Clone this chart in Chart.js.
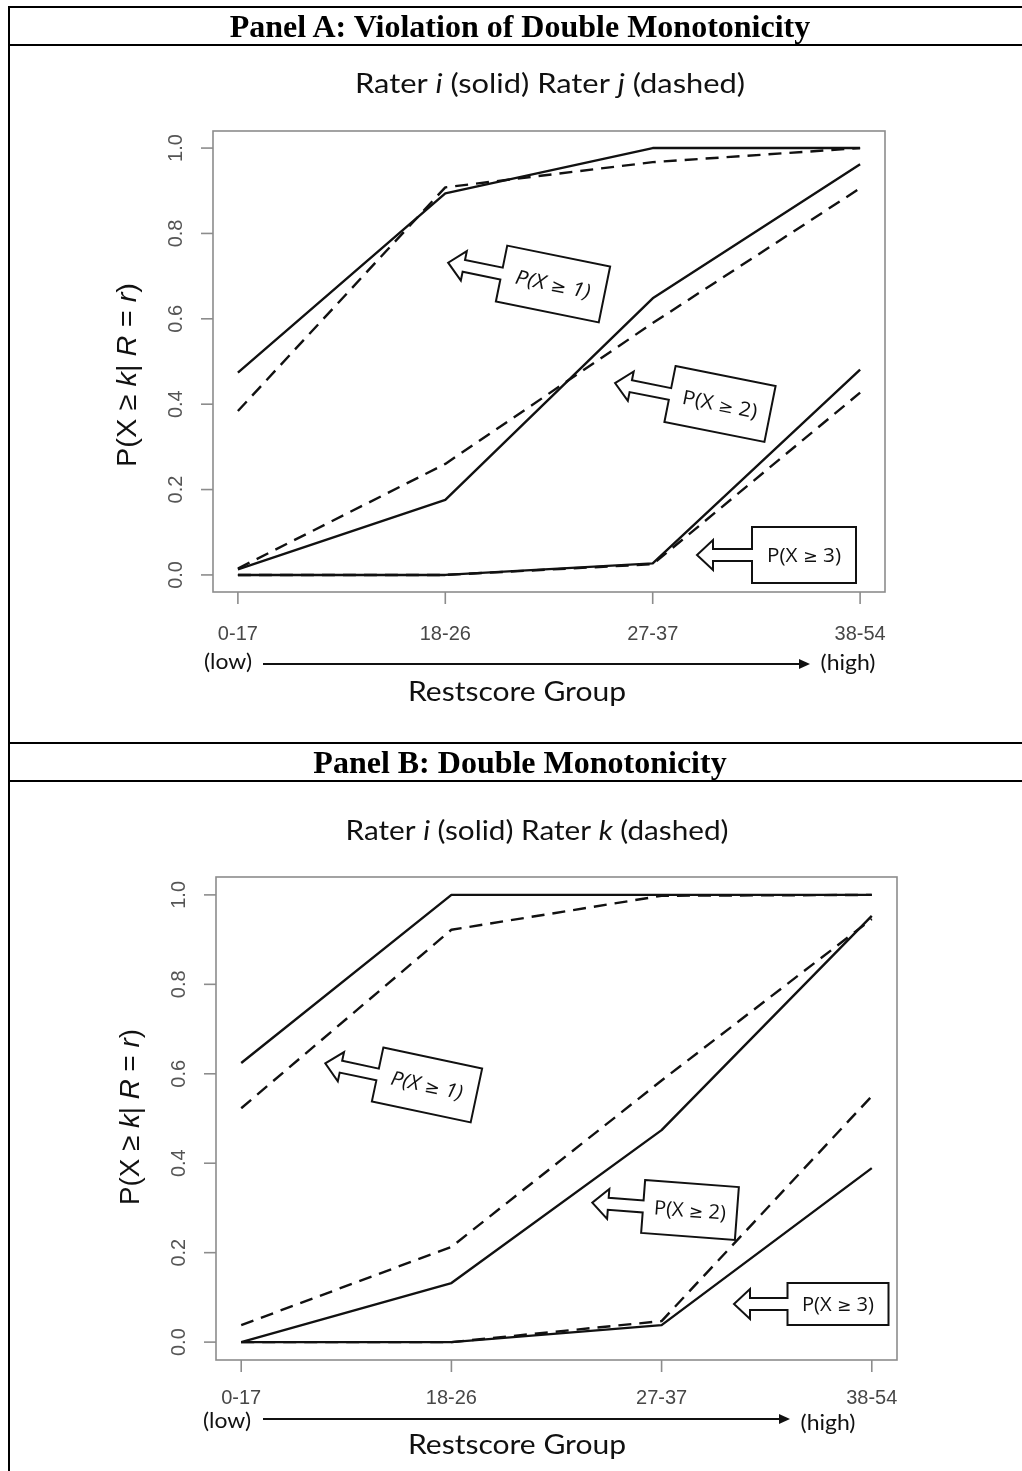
<!DOCTYPE html>
<html>
<head>
<meta charset="utf-8">
<script src="https://cdn.jsdelivr.net/npm/chart.js@4.4.1/dist/chart.umd.min.js"></script>
<style>
  html, body { margin: 0; padding: 0; background: #fff; width: 1022px; height: 1471px; overflow: hidden; position: relative; }
  canvas { position: absolute; left: 0; }
  .rule { position: absolute; background: #000; z-index: 2; }
  .head { position: absolute; left: 8px; width: 1024px; height: 36px; line-height: 36px; text-align: center;
          font: bold 32px "Liberation Serif", "Times New Roman", serif; color: #000; white-space: nowrap; z-index: 2; }
</style>
</head>
<body>
<canvas id="chartA" width="1022" height="742" style="top:0"></canvas>
<canvas id="chartB" width="1022" height="727" style="top:744px"></canvas>

<div class="rule" style="left:8px;top:6px;width:1014px;height:2px"></div>
<div class="rule" style="left:8px;top:6px;width:2px;height:1465px"></div>
<div class="rule" style="left:8px;top:44px;width:1014px;height:2px"></div>
<div class="rule" style="left:8px;top:742px;width:1014px;height:2px"></div>
<div class="rule" style="left:8px;top:780px;width:1014px;height:2px"></div>
<div class="head" style="top:8px">Panel A: Violation of Double Monotonicity</div>
<div class="head" style="top:744px">Panel B: Double Monotonicity</div>

<script>
// Restscore groups along the x axis
const groups = ['0-17', '18-26', '27-37', '38-54'];
// Probability ticks on the y axis
const yTickValues = [0, 0.2, 0.4, 0.6, 0.8, 1.0];
const yTickLabels = ['0.0', '0.2', '0.4', '0.6', '0.8', '1.0'];

// Panel A: rater i (solid) vs rater j (dashed)
const aSolidGe1  = [0.474, 0.894, 1.000, 1.000];
const aDashedGe1 = [0.384, 0.908, 0.967, 1.000];
const aSolidGe2  = [0.013, 0.176, 0.648, 0.962];
const aDashedGe2 = [0.015, 0.260, 0.590, 0.906];
const aSolidGe3  = [0.000, 0.000, 0.027, 0.481];
const aDashedGe3 = [0.000, 0.000, 0.025, 0.427];

// Panel B: rater i (solid) vs rater k (dashed)
const bSolidGe1  = [0.624, 1.000, 1.000, 1.000];
const bDashedGe1 = [0.523, 0.922, 0.998, 1.000];
const bSolidGe2  = [0.000, 0.132, 0.474, 0.953];
const bDashedGe2 = [0.038, 0.213, 0.585, 0.946];
const bSolidGe3  = [0.000, 0.000, 0.038, 0.389];
const bDashedGe3 = [0.000, 0.000, 0.047, 0.550];

// Category thresholds named in the callouts: P(X >= 1), P(X >= 2), P(X >= 3)
const calloutLevels = ['1', '2', '3'];

const INK = '#111';
const AXIS = '#8c8c8c';
const RFONT = '"Liberation Sans", Arial, sans-serif';
const SFONT = 'Lato, "Open Sans", sans-serif';
const CFONT = '"Open Sans", "DejaVu Sans", sans-serif';
const GEFONT = '"DejaVu Sans", sans-serif';

function series(vals, dashed) {
  return {
    data: vals.map((v, i) => ({ x: i + 1, y: v })),
    borderColor: INK,
    borderWidth: 2.4,
    borderDash: dashed ? [13, 8] : [],
    borderJoinStyle: 'round',
    pointRadius: 0,
    tension: 0,
    fill: false,
    clip: false
  };
}

// Draw a run of text pieces (some italic or in their own face), optionally squeezed to a width and rotated.
function drawRich(ctx, segs, x, y, o) {
  ctx.save();
  ctx.translate(x, y);
  if (o.rotate) ctx.rotate(o.rotate);
  const fonts = segs.map(s => (s.it ? 'italic ' : '') + (s.size || o.size) + 'px ' + (s.family || o.family));
  const widths = segs.map((s, i) => { ctx.font = fonts[i]; return ctx.measureText(s.t).width; });
  const total = widths.reduce((a, b) => a + b, 0);
  const sx = o.width ? o.width / total : 1;
  ctx.scale(sx, 1);
  let start = o.align === 'left' ? 0 : -total / 2;
  ctx.fillStyle = o.color || INK;
  ctx.textAlign = 'left';
  ctx.textBaseline = 'alphabetic';
  segs.forEach((s, i) => { ctx.font = fonts[i]; ctx.fillText(s.t, start, 0); start += widths[i]; });
  ctx.restore();
}

function makePanel(id, top, p) {
  const canvas = document.getElementById(id);
  const frame = {
    id: 'frame_' + id,
    beforeDatasetsDraw(chart) {
      const ctx = chart.ctx, a = chart.chartArea;
      const xs = chart.scales.x, ys = chart.scales.y;
      ctx.save();
      ctx.strokeStyle = AXIS;
      ctx.lineWidth = 1.6;
      ctx.strokeRect(a.left, a.top, a.right - a.left, a.bottom - a.top);
      // y ticks and rotated labels
      yTickValues.forEach((v, i) => {
        const py = ys.getPixelForValue(v);
        ctx.beginPath();
        ctx.moveTo(a.left, py);
        ctx.lineTo(a.left - 12, py);
        ctx.stroke();
        drawRich(ctx, [{ t: yTickLabels[i] }], a.left - 31, py, {
          size: 20, family: RFONT, color: '#555', rotate: -Math.PI / 2
        });
      });
      // x ticks and group labels
      groups.forEach((g, i) => {
        const px = xs.getPixelForValue(i + 1);
        ctx.beginPath();
        ctx.moveTo(px, a.bottom);
        ctx.lineTo(px, a.bottom + 12);
        ctx.stroke();
        drawRich(ctx, [{ t: g }], px, p.xLabelBase - top, { size: 20, family: RFONT, color: '#474747' });
      });
      ctx.restore();
    },
    afterDatasetsDraw(chart) {
      const ctx = chart.ctx;
      // block-arrow callouts naming each cumulative category
      p.callouts.forEach(c => {
        ctx.save();
        const w = c.w, h = c.h, s = 6, hh = 15, hl = 16;
        ctx.translate(c.cx, c.cy - top);
        ctx.rotate(c.angle * Math.PI / 180);
        ctx.beginPath();
        ctx.moveTo(-w / 2, -h / 2);
        ctx.lineTo(w / 2, -h / 2);
        ctx.lineTo(w / 2, h / 2);
        ctx.lineTo(-w / 2, h / 2);
        ctx.lineTo(-w / 2, s);
        ctx.lineTo(-c.tip + hl, s);
        ctx.lineTo(-c.tip + hl, hh);
        ctx.lineTo(-c.tip, 0);
        ctx.lineTo(-c.tip + hl, -hh);
        ctx.lineTo(-c.tip + hl, -s);
        ctx.lineTo(-w / 2, -s);
        ctx.closePath();
        ctx.fillStyle = '#fff';
        ctx.fill();
        ctx.lineWidth = 2;
        ctx.strokeStyle = INK;
        ctx.stroke();
        drawRich(ctx, [
          { t: 'P(X ', it: c.italic },
          { t: '\u2265', family: GEFONT, size: 17 },
          { t: ' ' + c.level + ')', it: c.italic }
        ], 0, 7, { size: 20, family: CFONT, width: c.tw });
        ctx.restore();
      });
    },
    afterDraw(chart) {
      const ctx = chart.ctx;
      // title
      drawRich(ctx, p.title, p.titleX, p.titleBase - top, { size: 27, family: SFONT, width: p.titleW });
      // y-axis title
      drawRich(ctx, [{ t: 'P(X \u2265 ' }, { t: 'k', it: true }, { t: '| ' }, { t: 'R', it: true }, { t: ' = ' }, { t: 'r', it: true }, { t: ')' }],
        p.yTitleBase, p.yTitleY - top, { size: 28, family: RFONT, width: p.yTitleW, rotate: -Math.PI / 2 });
      // low -> high arrow
      const ay = p.arrowY - top;
      ctx.save();
      ctx.strokeStyle = INK; ctx.fillStyle = INK; ctx.lineWidth = 2;
      ctx.beginPath(); ctx.moveTo(p.arrowX0, ay); ctx.lineTo(p.arrowX1 - 8, ay); ctx.stroke();
      ctx.beginPath(); ctx.moveTo(p.arrowX1, ay); ctx.lineTo(p.arrowX1 - 11, ay - 5); ctx.lineTo(p.arrowX1 - 11, ay + 5); ctx.closePath(); ctx.fill();
      ctx.restore();
      drawRich(ctx, [{ t: '(low)' }], p.lowX, p.lowBase - top, { size: 21, family: SFONT, width: 48 });
      drawRich(ctx, [{ t: '(high)' }], p.highX, p.highBase - top, { size: 21, family: SFONT, width: 55 });
      drawRich(ctx, [{ t: 'Restscore Group' }], p.xTitleX, p.xTitleBase - top, { size: 27, family: SFONT, width: 218 });
    }
  };

  return new Chart(canvas.getContext('2d'), {
    type: 'line',
    data: { datasets: p.sets },
    options: {
      responsive: false,
      animation: false,
      devicePixelRatio: 1,
      events: [],
      layout: { padding: p.pad },
      plugins: { legend: { display: false }, tooltip: { enabled: false }, title: { display: false } },
      scales: {
        x: { type: 'linear', min: 0.88, max: 4.12, display: false },
        y: { type: 'linear', min: -0.04, max: 1.04, display: false }
      }
    },
    plugins: [frame]
  });
}

makePanel('chartA', 0, {
  pad: { left: 213, right: 137, top: 131, bottom: 150 },
  sets: [series(aSolidGe1), series(aDashedGe1, true), series(aSolidGe2), series(aDashedGe2, true), series(aSolidGe3), series(aDashedGe3, true)],
  title: [{ t: 'Rater ' }, { t: 'i', it: true }, { t: ' (solid) Rater ' }, { t: 'j', it: true }, { t: ' (dashed)' }],
  titleX: 550, titleBase: 93, titleW: 390,
  yTitleBase: 136, yTitleY: 375, yTitleW: 184,
  xLabelBase: 640,
  arrowY: 664, arrowX0: 263, arrowX1: 810,
  lowX: 228, lowBase: 669, highX: 848, highBase: 670,
  xTitleX: 517, xTitleBase: 701,
  callouts: [
    { cx: 553, cy: 284, angle: 11.5, w: 105, h: 57, tip: 107, level: calloutLevels[0], italic: true, tw: 76 },
    { cx: 720, cy: 404, angle: 11.3, w: 102, h: 57, tip: 107, level: calloutLevels[1], italic: false, tw: 76 },
    { cx: 804, cy: 555, angle: 0, w: 104, h: 56, tip: 107, level: calloutLevels[2], italic: false, tw: 74 }
  ]
});

makePanel('chartB', 744, {
  pad: { left: 216, right: 125, top: 133, bottom: 111 },
  sets: [series(bSolidGe1), series(bDashedGe1, true), series(bSolidGe2), series(bDashedGe2, true), series(bSolidGe3), series(bDashedGe3, true)],
  title: [{ t: 'Rater ' }, { t: 'i', it: true }, { t: ' (solid) Rater ' }, { t: 'k', it: true }, { t: ' (dashed)' }],
  titleX: 537, titleBase: 840, titleW: 383,
  yTitleBase: 139, yTitleY: 1117, yTitleW: 176,
  xLabelBase: 1404,
  arrowY: 1419, arrowX0: 263, arrowX1: 790,
  lowX: 227, lowBase: 1428, highX: 828, highBase: 1430,
  xTitleX: 517, xTitleBase: 1454,
  callouts: [
    { cx: 427, cy: 1085, angle: 12, w: 101, h: 55, tip: 104, level: calloutLevels[0], italic: true, tw: 73 },
    { cx: 690, cy: 1210, angle: 4.3, w: 94, h: 53, tip: 98, level: calloutLevels[1], italic: false, tw: 72 },
    { cx: 838, cy: 1304, angle: 0, w: 101, h: 42, tip: 104, level: calloutLevels[2], italic: false, tw: 72 }
  ]
});
</script>
</body>
</html>
